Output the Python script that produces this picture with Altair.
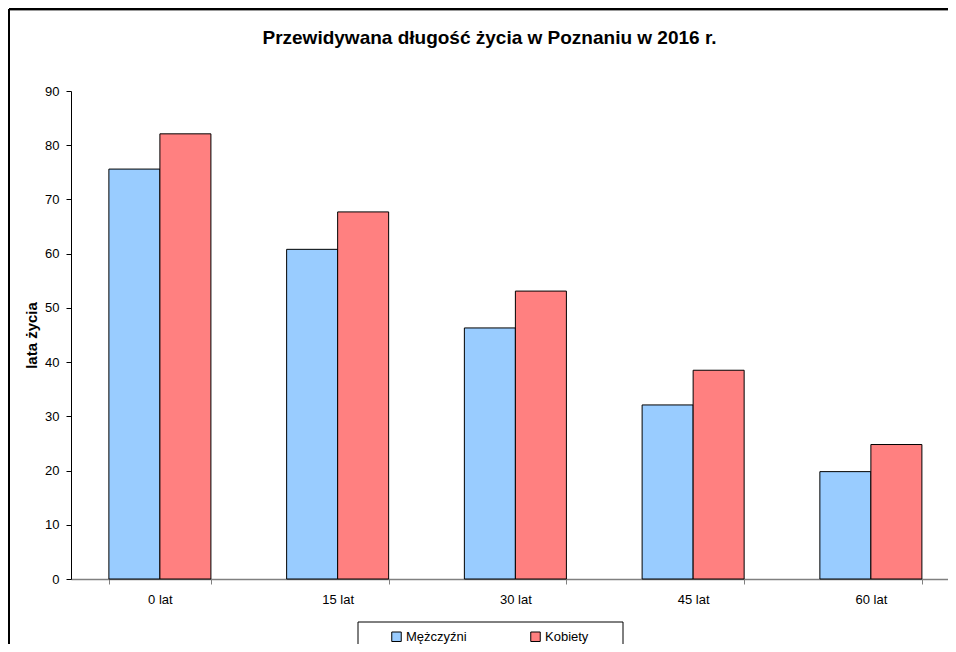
import altair as alt
import pandas as pd

categories = ["0 lat", "15 lat", "30 lat", "45 lat", "60 lat"]
men = [75.6, 60.8, 46.3, 32.1, 19.8]
women = [82.1, 67.7, 53.1, 38.5, 24.8]
series = ["Mężczyźni", "Kobiety"]
colors = ["#99CCFF", "#FF8080"]
y_ticks = list(range(0, 100, 10))

rows = []
for c, m, w in zip(categories, men, women):
    rows.append({"wiek": c, "plec": series[0], "lata": m})
    rows.append({"wiek": c, "plec": series[1], "lata": w})
df = pd.DataFrame(rows)

FONT = "Liberation Sans"
W, H = 877, 488

one = pd.DataFrame({"a": [0]})

border_top = alt.Chart(one).mark_rule(stroke="black", strokeWidth=2).encode(
    x=alt.value(-62), x2=alt.value(900), y=alt.value(-82)
)
border_top2 = alt.Chart(one).mark_rule(stroke="#999999", strokeWidth=1).encode(
    x=alt.value(-61), x2=alt.value(900), y=alt.value(-80.5)
)
border_left = alt.Chart(one).mark_rule(stroke="black", strokeWidth=2).encode(
    x=alt.value(-62), y=alt.value(-82), y2=alt.value(620)
)
legbox = alt.Chart(one).mark_rect(fill="white", stroke="black", strokeWidth=1).encode(
    x=alt.value(287), x2=alt.value(552), y=alt.value(531), y2=alt.value(560)
)

bars = alt.Chart(df).mark_bar(stroke="black", strokeWidth=1).encode(
    x=alt.X(
        "wiek:N",
        sort=categories,
        scale=alt.Scale(paddingInner=0.426, paddingOuter=0.18, align=0.592),
        axis=alt.Axis(
            title=None, labelAngle=0, domainColor="#808080", tickColor="#808080",
            tickSize=5, tickBand="extent", labelPadding=9, labelFontSize=13,
            labelColor="black", labelFont=FONT, domainWidth=1.5,
        ),
    ),
    xOffset=alt.XOffset("plec:N", sort=series, scale=alt.Scale(paddingInner=0, paddingOuter=0)),
    y=alt.Y(
        "lata:Q",
        scale=alt.Scale(domain=[0, 90], nice=False),
        axis=alt.Axis(
            values=y_ticks, title="lata życia", grid=False, labelFontSize=13,
            labelFont=FONT, labelColor="black", domainColor="black", tickColor="black",
            tickSize=5, labelPadding=7, titleFontSize=15, titleFont=FONT,
            titleFontWeight="bold", titleColor="black", titlePadding=5,
        ),
    ),
    color=alt.Color(
        "plec:N",
        sort=series,
        scale=alt.Scale(domain=series, range=colors),
        legend=alt.Legend(
            title=None, orient="none", legendX=319, legendY=539, direction="horizontal",
            symbolType="square", symbolSize=90, symbolStrokeColor="black",
            symbolStrokeWidth=1, labelFontSize=13, labelFont=FONT, labelColor="black",
            columnPadding=61, padding=0, labelOffset=3,
        ),
    ),
)

chart = alt.layer(border_top, border_top2, border_left, legbox, bars).properties(
    width=W,
    height=H,
    autosize="none",
    padding={"left": 63, "top": 83, "right": 0, "bottom": 65},
    title=alt.TitleParams(
        "Przewidywana długość życia w Poznaniu w 2016 r.",
        fontSize=19, font=FONT, fontWeight="bold", color="black",
        anchor="middle", dx=-20, offset=0, dy=55, baseline="alphabetic",
    ),
).configure_view(stroke=None)

chart.save("out.html", embed_options={"renderer": "svg", "actions": False})
